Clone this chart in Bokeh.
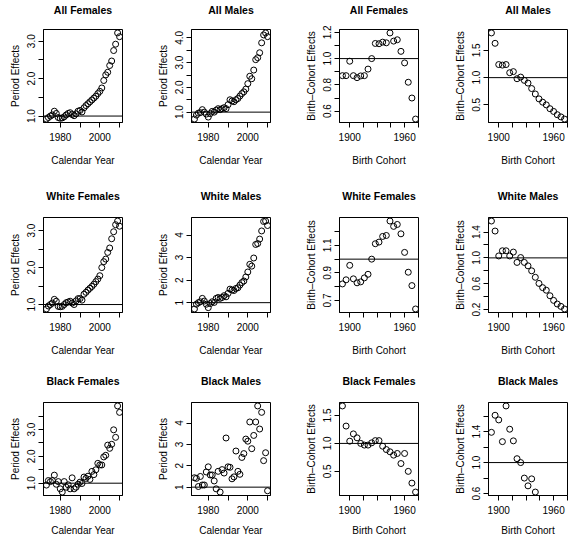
from bokeh.plotting import figure
from bokeh.layouts import column, row
from bokeh.models import Range1d, FixedTicker, Span, LinearAxis
from bokeh.embed import file_html
from bokeh.resources import INLINE

# ---------------- data ----------------
years = list(range(1973, 2011))
cohorts = list(range(1892, 1976, 4))

AF_period = [0.92, 0.96, 1.00, 1.03, 1.13, 1.07, 0.96, 0.94, 0.95, 0.98, 1.03, 1.07, 1.09, 1.04, 1.01, 1.06, 1.13, 1.15, 1.11, 1.22,
             1.28, 1.33, 1.38, 1.43, 1.48, 1.53, 1.60, 1.66, 1.75, 1.95, 2.10, 2.17, 2.35, 2.47, 2.75, 2.92, 3.22, 3.12]
AM_period = [0.72, 0.88, 0.96, 0.98, 1.10, 1.00, 0.92, 0.80, 0.94, 1.03, 1.00, 1.08, 1.14, 1.10, 1.14, 1.18, 1.14, 1.30, 1.50, 1.45,
             1.42, 1.50, 1.55, 1.65, 1.75, 1.82, 1.93, 2.15, 2.45, 2.35, 2.70, 3.12, 3.20, 3.40, 3.80, 4.12, 4.20, 4.05]
WF_period = [0.88, 0.96, 1.00, 1.04, 1.14, 1.09, 0.95, 0.94, 0.95, 1.00, 1.05, 1.07, 1.09, 1.04, 1.00, 1.10, 1.16, 1.16, 1.12, 1.28,
             1.33, 1.39, 1.44, 1.49, 1.55, 1.62, 1.69, 1.78, 2.00, 2.16, 2.23, 2.41, 2.53, 2.78, 2.97, 3.16, 3.26, 3.12]
WM_period = [0.72, 0.93, 1.00, 1.04, 1.19, 1.07, 0.93, 0.78, 0.96, 1.04, 1.01, 1.19, 1.23, 1.19, 1.23, 1.31, 1.26, 1.41, 1.60, 1.56,
             1.54, 1.63, 1.66, 1.78, 1.89, 1.96, 2.14, 2.36, 2.70, 2.62, 2.98, 3.58, 3.62, 3.82, 4.18, 4.60, 4.62, 4.42]
BF_period = [0.93, 1.10, 1.06, 1.10, 1.30, 0.96, 1.06, 0.79, 0.67, 1.06, 0.85, 0.94, 0.79, 1.20, 0.79, 0.85, 0.96, 1.04, 0.99, 1.23,
             1.18, 1.26, 1.14, 1.44, 1.32, 1.50, 1.74, 1.68, 1.68, 1.98, 2.04, 2.42, 2.30, 2.45, 2.99, 2.71, 3.88, 3.64]
BM_period = [1.44, 1.41, 1.03, 1.50, 1.10, 1.10, 1.71, 1.95, 1.57, 1.57, 1.29, 0.92, 1.74, 0.77, 1.82, 1.66, 3.30, 1.95, 1.93, 1.39,
             1.48, 2.69, 1.74, 1.60, 2.39, 2.57, 3.25, 3.15, 4.05, 2.80, 3.42, 4.05, 4.80, 3.72, 4.50, 2.24, 2.61, 0.83]

AF_cohort = [0.87, 0.87, 0.98, 0.87, 0.855, 0.868, 0.87, 0.92, 1.00, 1.115, 1.113, 1.125, 1.12, 1.195, 1.133, 1.143, 1.055, 0.967, 0.82, 0.70, 0.54]
AM_cohort = [1.82, 1.63, 1.24, 1.23, 1.24, 1.09, 1.11, 0.98, 1.01, 0.95, 0.90, 0.80, 0.70, 0.61, 0.55, 0.50, 0.43, 0.38, 0.32, 0.28, 0.24]
WF_cohort = [0.82, 0.85, 0.955, 0.857, 0.828, 0.835, 0.864, 0.89, 1.00, 1.112, 1.124, 1.165, 1.172, 1.277, 1.238, 1.252, 1.184, 1.049, 0.905, 0.808, 0.638]
WM_cohort = [1.57, 1.415, 1.03, 1.11, 1.11, 1.03, 1.09, 0.93, 1.005, 0.93, 0.877, 0.80, 0.70, 0.605, 0.54, 0.50, 0.415, 0.343, 0.287, 0.25, 0.21]
BF_cohort = [1.67, 1.31, 1.04, 1.17, 1.10, 1.00, 0.97, 0.97, 1.01, 1.05, 1.05, 0.95, 0.89, 0.85, 0.79, 0.82, 0.64, 0.82, 0.50, 0.29, 0.13]
BM_cohort = [1.39, 1.61, 1.55, 1.27, 1.73, 1.43, 1.28, 1.05, 1.00, 0.80, 0.70, 0.79, 0.62]

titles = ["All Females", "All Males", "All Females", "All Males",
          "White Females", "White Males", "White Females", "White Males",
          "Black Females", "Black Males", "Black Females", "Black Males"]

period_xticks = [1980, 1990, 2000, 2010]
period_xlabels = {1980: "1980", 2000: "2000"}
cohort_xticks = [1900, 1915, 1930, 1945, 1960, 1975]
cohort_xlabels = {1900: "1900", 1960: "1960"}

yticks = [
    ([1.0, 1.5, 2.0, 2.5, 3.0], {1.0: "1.0", 2.0: "2.0", 3.0: "3.0"}),
    ([1.0, 1.5, 2.0, 2.5, 3.0, 3.5, 4.0], {1.0: "1.0", 2.0: "2.0", 3.0: "3.0", 4.0: "4.0"}),
    ([0.6, 0.7, 0.8, 0.9, 1.0, 1.1, 1.2], {0.6: "0.6", 0.8: "0.8", 1.0: "1.0", 1.2: "1.2"}),
    ([0.5, 1.0, 1.5], {0.5: "0.5", 1.0: "1.0", 1.5: "1.5"}),
    ([1.0, 1.5, 2.0, 2.5, 3.0], {1.0: "1.0", 2.0: "2.0", 3.0: "3.0"}),
    ([1, 2, 3, 4], {1: "1", 2: "2", 3: "3", 4: "4"}),
    ([0.7, 0.8, 0.9, 1.0, 1.1, 1.2], {0.7: "0.7", 0.9: "0.9", 1.1: "1.1"}),
    ([0.2, 0.4, 0.6, 0.8, 1.0, 1.2, 1.4], {0.2: "0.2", 0.6: "0.6", 1.0: "1.0", 1.4: "1.4"}),
    ([1.0, 1.5, 2.0, 2.5, 3.0, 3.5], {1.0: "1.0", 2.0: "2.0", 3.0: "3.0"}),
    ([1, 2, 3, 4], {1: "1", 2: "2", 3: "3", 4: "4"}),
    ([0.5, 1.0, 1.5], {0.5: "0.5", 1.0: "1.0", 1.5: "1.5"}),
    ([0.6, 0.8, 1.0, 1.2, 1.4, 1.6], {0.6: "0.6", 1.0: "1.0", 1.4: "1.4"}),
]

series = [AF_period, AM_period, AF_cohort, AM_cohort,
          WF_period, WM_period, WF_cohort, WM_cohort,
          BF_period, BM_period, BF_cohort, BM_cohort]

FONT = "Liberation Sans"

# layout geometry (px)
col_left = [43, 43, 43, 44]
col_right = [26, 26, 26, 1]
frame_w = [79, 79, 79, 79]
row_top = [27, 30, 30]
row_bottom = [64, 59, 42]
frame_h = [95, 96, 95]
x_title_standoff = [11, 11, 8]
main_title_standoff = [14, 16, 16]


def padded(vals):
    lo, hi = min(vals), max(vals)
    d = 0.04 * (hi - lo)
    return Range1d(lo - d, hi + d)


def make_panel(i):
    r, c = divmod(i, 4)
    is_period = (c < 2)
    ys = series[i]
    xall = years if is_period else cohorts
    xs = xall[:len(ys)]
    yt, yl = yticks[i]
    xr = padded(xall)
    yr = padded(ys)
    p = figure(width=col_left[c] + frame_w[c] + col_right[c],
               height=row_top[r] + frame_h[r] + row_bottom[r],
               x_range=xr, y_range=yr,
               min_border_left=col_left[c], min_border_right=col_right[c],
               min_border_top=row_top[r], min_border_bottom=row_bottom[r],
               output_backend="svg", toolbar_location=None)
    p.grid.visible = False
    p.outline_line_color = "black"
    p.outline_line_width = 1
    p.outline_line_alpha = 1
    p.background_fill_color = "white"
    p.border_fill_color = "white"

    p.scatter(xs, ys, marker="circle", size=6, fill_color=None,
              line_color="black", line_width=1)
    p.add_layout(Span(location=1, dimension="width", line_color="black", line_width=1))

    xa = p.below[0]
    ya = p.left[0]
    for ax in (xa, ya):
        ax.axis_line_color = "black"
        ax.major_tick_line_color = "black"
        ax.minor_tick_line_color = None
        ax.major_tick_in = 0
        ax.major_tick_out = 5
        ax.major_label_text_font = FONT
        ax.major_label_text_font_size = "10px"
        ax.major_label_text_color = "black"
        ax.axis_label_text_font = FONT
        ax.axis_label_text_font_size = "10px"
        ax.axis_label_text_font_style = "normal"
        ax.axis_label_text_color = "black"

    if is_period:
        xa.ticker = FixedTicker(ticks=period_xticks)
        xa.major_label_overrides = {t: period_xlabels.get(t, "") for t in period_xticks}
        xa.axis_label = "Calendar Year"
    else:
        xa.ticker = FixedTicker(ticks=cohort_xticks)
        xa.major_label_overrides = {t: cohort_xlabels.get(t, "") for t in cohort_xticks}
        xa.axis_label = "Birth Cohort"
    xa.major_label_standoff = 5
    xa.axis_label_standoff = x_title_standoff[r]

    ya.ticker = FixedTicker(ticks=yt)
    ya.major_label_overrides = {t: yl.get(t, "") for t in yt}
    ya.major_label_orientation = "vertical"
    ya.major_label_standoff = 3
    ya.axis_label_standoff = 4
    ya.axis_label = "Period Effects" if is_period else "Birth\u2013Cohort Effects"

    # main title, drawn as the label of a tickless axis above the frame
    top = LinearAxis(ticker=FixedTicker(ticks=[]), axis_label=titles[i])
    top.axis_line_color = None
    top.major_tick_line_color = None
    top.minor_tick_line_color = None
    top.major_tick_out = 0
    top.major_tick_in = 0
    top.major_label_standoff = 0
    top.major_label_text_font_size = "0px"
    top.axis_label_standoff = main_title_standoff[r]
    top.axis_label_text_font = FONT
    top.axis_label_text_font_size = "10.5px"
    top.axis_label_text_font_style = "bold"
    top.axis_label_text_color = "black"
    p.add_layout(top, "above")
    return p


panels = [make_panel(i) for i in range(12)]
layout = column(row(*panels[0:4]), row(*panels[4:8]), row(*panels[8:12]))

with open("out.html", "w") as f:
    f.write(file_html(layout, INLINE))
